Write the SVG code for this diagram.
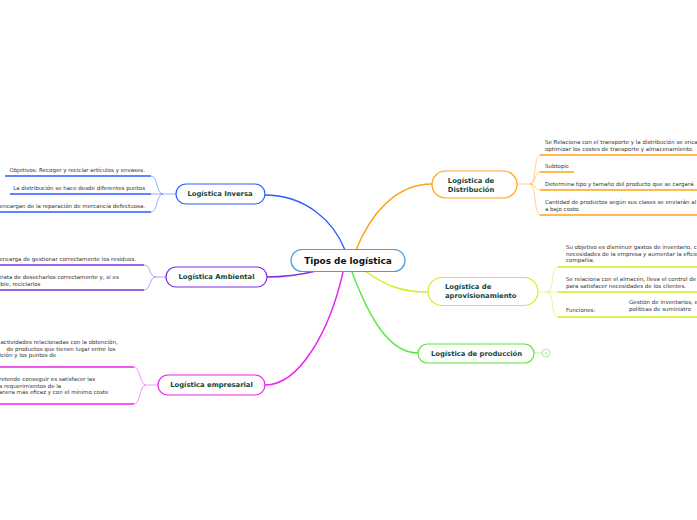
<svg xmlns="http://www.w3.org/2000/svg" width="697" height="520" viewBox="0 0 697 520">
<style>
.leaf{font-family:"DejaVu Sans",Verdana,sans-serif;font-size:5.5px;fill:#333}
.nt{font-family:"DejaVu Sans",Verdana,sans-serif;font-weight:bold;font-size:6.8px;fill:#14463a}
.ct{font-family:"DejaVu Sans",Verdana,sans-serif;font-weight:bold;font-size:8.9px;fill:#111}
.box{fill:#fff;stroke-width:1.2}
.main{fill:none;stroke-width:1.4;stroke-linecap:round}
.br{fill:none;stroke-width:0.8;opacity:0.6}
.ul{fill:none;stroke-width:1.6}
</style>
<rect width="697" height="520" fill="#fff"/>
<g id="connectors">
  <path class="main" stroke="#2d5bff" d="M264,195 C305,195 333,220 345,250"/>
  <path class="main" stroke="#ffa31a" d="M356,250 C370,215 395,184 432,184"/>
  <path class="main" stroke="#7b2fe6" d="M316,271 C300,275 285,277 266,277"/>
  <path class="main" stroke="#ee22ee" d="M343,272 C330,330 300,385 265,385"/>
  <path class="main" stroke="#58e83a" d="M352,272 C370,320 390,353 418,353"/>
  <path class="main" stroke="#d0ee1a" d="M365,271 C385,285 400,292 428,292"/>
  <path class="br" stroke="#2d5bff" d="M176,194 L163,194 C156,194 158,176 151,176 M163,194 L151,194 M163,194 C156,194 158,212 151,212"/>
  <path class="ul" stroke="#2d5bff" d="M5,176 H151 M10,194 H151 M0,212 H151"/>
  <path class="br" stroke="#7b2fe6" d="M166,277 L156,277 C149,277 151,265 144,265 M156,277 C149,277 151,290 144,290"/>
  <path class="ul" stroke="#7b2fe6" d="M0,265 H144 M0,290 H144"/>
  <path class="br" stroke="#ee22ee" d="M158,385 L146,385 C139,385 141,367 134,367 M146,385 C139,385 141,404 134,404"/>
  <path class="ul" stroke="#ee22ee" d="M0,367 H134 M0,404 H134"/>
  <path class="br" stroke="#ffa31a" d="M517,184 L530,184 C536,184 534,155 540,155 M530,184 C536,184 534,172 540,172 M530,184 C536,184 534,190 540,190 M530,184 C536,184 534,215 540,215"/>
  <path class="ul" stroke="#ffa31a" d="M540,155 H697 M540,172 H574 M540,190 H697 M540,215 H697"/>
  <path class="br" stroke="#d0ee1a" d="M538,292 L547,292 C555,292 550,267 558,267 M547,292 L558,292 M547,292 C555,292 550,317 558,317"/>
  <path class="ul" stroke="#d0ee1a" d="M558,267 H697 M558,292 H697 M558,317 H625 M625,317 H697"/>
  <path class="br" stroke="#58e83a" d="M534,353 H542"/>
</g>
<g id="central">
  <rect class="box" x="291" y="249.5" width="114" height="22" rx="11" stroke="#4f9bd9"/>
  <text class="ct" x="348" y="264" text-anchor="middle">Tipos de logística</text>
</g>
<g id="inversa">
  <rect class="box" x="176" y="184" width="89" height="20" rx="10" stroke="#2d5bff"/>
  <text class="nt" x="220" y="196.4" text-anchor="middle">Logística Inversa</text>
  <text class="leaf" x="145" y="171.9" text-anchor="end">Objetivos: Recoger y reciclar artículos y envases.</text>
  <text class="leaf" x="145" y="189.9" text-anchor="end">La distribución se hace desde diferentes puntos</text>
  <text class="leaf" x="145" y="207.9" text-anchor="end">encargan de la reparación de mercancía defectuosa.</text>
</g>
<g id="ambiental">
  <rect class="box" x="166" y="267" width="101" height="20" rx="10" stroke="#7b2fe6"/>
  <text class="nt" x="216.5" y="279.4" text-anchor="middle">Logística Ambiental</text>
  <text class="leaf" x="136" y="260.9" text-anchor="end">encarga de gestionar correctamente los residuos.</text>
  <text class="leaf" x="-1" y="278.9">trata de desecharlos correctamente y, si es</text>
  <text class="leaf" x="-1" y="285.9">ible, reciclarlos</text>
</g>
<g id="empresarial">
  <rect class="box" x="158" y="375" width="107" height="20" rx="10" stroke="#ee22ee"/>
  <text class="nt" x="211.5" y="387.4" text-anchor="middle">Logística empresarial</text>
  <text class="leaf" x="0.5" y="343.9">actividades relacionadas con la obtención,</text>
  <text class="leaf" x="6.5" y="350.6">de productos que tienen lugar entre los</text>
  <text class="leaf" x="-0.5" y="357.3">ición y los puntos de</text>
  <text class="leaf" x="-1" y="380.9">retende conseguir es satisfacer las</text>
  <text class="leaf" x="-0.5" y="387.6">s requerimientos de la</text>
  <text class="leaf" x="-1" y="394.3">anera más eficaz y con el mínimo coste</text>
</g>
<g id="distribucion">
  <rect class="box" x="432" y="171" width="85" height="27" rx="13.5" stroke="#ffa31a"/>
  <text class="nt" x="471" y="183.3" text-anchor="middle">Logística de</text>
  <text class="nt" x="471" y="191.8" text-anchor="middle">Distribución</text>
  <text class="leaf" x="545" y="143.9">Se Relaciona con el transporte y la distribución se enca</text>
  <text class="leaf" x="545" y="150.6">optimizar los costes de transporte y almacenamiento.</text>
  <text class="leaf" x="545" y="167.9">Subtopic</text>
  <text class="leaf" x="545" y="185.9">Determina tipo y tamaño del producto que se cargará</text>
  <text class="leaf" x="545" y="203.9">Cantidad de productos según sus clases se enviarán al</text>
  <text class="leaf" x="545" y="210.9">a bajo costo.</text>
</g>
<g id="aprovisionamiento">
  <rect class="box" x="428" y="277.5" width="110" height="28" rx="14" stroke="#d0ee1a"/>
  <text class="nt" x="445" y="289.3">Logística de</text>
  <text class="nt" x="445" y="297.8">aprovisionamiento</text>
  <text class="leaf" x="566" y="248.9">Su objetivo es disminuir gastos de inventario, c</text>
  <text class="leaf" x="566" y="255.6">necesidades de la empresa y aumentar la eficie</text>
  <text class="leaf" x="566" y="262.3">compañía.</text>
  <text class="leaf" x="566" y="280.9">Se relaciona con el almacén, lleva el control de</text>
  <text class="leaf" x="566" y="287.6">para satisfacer necesidades de los clientes.</text>
  <text class="leaf" x="566" y="311.9">Funciones:</text>
  <text class="leaf" x="629" y="303.9">Gestión de inventarios, e</text>
  <text class="leaf" x="629" y="311.4">políticas de suministro</text>
</g>
<g id="produccion">
  <rect class="box" x="418" y="344" width="116" height="19" rx="9.5" stroke="#58e83a"/>
  <text class="nt" x="476.5" y="356" text-anchor="middle">Logística de producción</text>
  <circle cx="546" cy="353" r="4" fill="#fff" stroke="#58e83a" stroke-width="0.8" opacity="0.7"/>
  <text x="546" y="354.6" text-anchor="middle" font-family="DejaVu Sans, sans-serif" font-size="4" fill="#58e83a">3</text>
</g>
</svg>
